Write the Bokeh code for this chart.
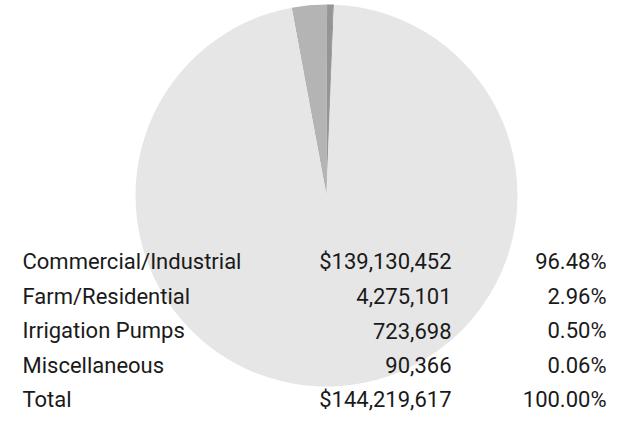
import math
from bokeh.plotting import figure
from bokeh.models import ColumnDataSource, Range1d
from bokeh.core.properties import value
from bokeh.embed import file_html
from bokeh.resources import INLINE

# ---- data ----
categories = ["Commercial/Industrial", "Farm/Residential", "Irrigation Pumps", "Miscellaneous"]
amounts = [139130452, 4275101, 723698, 90366]
percents = [96.48, 2.96, 0.50, 0.06]
total_label = "Total"
total_amount = 144219617
total_percent = 100.00
slice_colors = ["#e6e6e6", "#b4b4b4", "#959595", "#727272"]

# ---- layout constants ----
W, H = 608, 412
cx, cy, R = 326, 217, 191
start_deg = 100.5  # where Farm/Residential slice begins (clockwise drawing)

p = figure(width=W, height=H, output_backend="svg", toolbar_location=None,
           x_range=Range1d(0, W), y_range=Range1d(0, H), min_border=0,
           outline_line_color=None)
p.axis.visible = False
p.grid.visible = False
p.background_fill_color = "white"
p.border_fill_color = "white"

# Pie slices: clockwise starting with Farm, Irrigation, Misc, then Commercial
order = [1, 2, 3, 0]
tot = sum(amounts)
starts, ends, cols = [], [], []
a = math.radians(start_deg)
for i in order:
    span = 2 * math.pi * amounts[i] / tot
    starts.append(a - span)
    ends.append(a)
    cols.append(slice_colors[i])
    a -= span

src = ColumnDataSource(dict(x=[cx] * 4, y=[cy] * 4, s=starts, e=ends, c=cols))
p.wedge(x="x", y="y", radius=R, start_angle="s", end_angle="e",
        fill_color="c", line_color=None, source=src)

# Table text
labels = categories + [total_label]
amt_txt = ["$" + format(amounts[0], ",")] + [format(v, ",") for v in amounts[1:]] + ["$" + format(total_amount, ",")]
pct_txt = [f"{v:.2f}%" for v in percents] + [f"{total_percent:.2f}%"]
row_y = [151 - 34.5 * k for k in range(len(labels))]

font = value("Roboto")
common = dict(text_font=font, text_font_size="22px", text_color="#1a1a1a",
              text_baseline="middle")
p.text(x=[22] * len(labels), y=row_y, text=labels, text_align="left", **common)
p.text(x=[451] * len(labels), y=row_y, text=amt_txt, text_align="right", **common)
p.text(x=[606] * len(labels), y=row_y, text=pct_txt, text_align="right", **common)

open("out.html", "w").write(file_html(p, INLINE))
